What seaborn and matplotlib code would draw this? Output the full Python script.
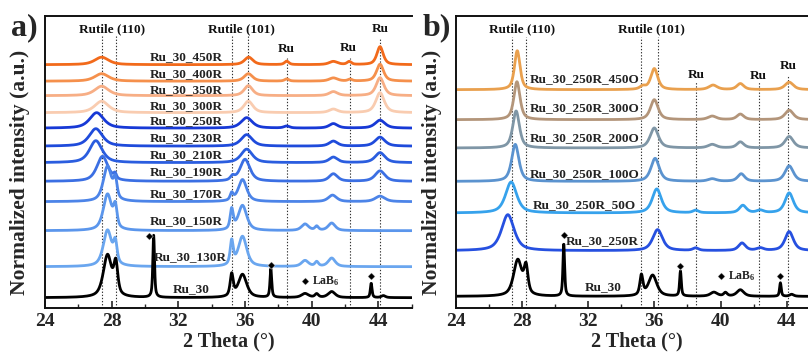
import numpy as np
import pandas as pd
import matplotlib
matplotlib.use("Agg")
import matplotlib.pyplot as plt
from matplotlib.ticker import MultipleLocator
import seaborn as sns

# ---------------- data ----------------
# angle grid of the patterns (2 theta, degrees)
TWO_THETA = np.arange(24.0, 46.001, 0.02)

# panel a) sample names, vertical offsets and colours (top -> bottom)
A_NAMES = ["Ru_30_450R", "Ru_30_400R", "Ru_30_350R", "Ru_30_300R", "Ru_30_250R",
           "Ru_30_230R", "Ru_30_210R", "Ru_30_190R", "Ru_30_170R", "Ru_30_150R",
           "Ru_30_130R", "Ru_30"]
A_OFFSETS = [243, 226.5, 212, 195, 179.5, 161.5, 145, 126.3, 106, 77, 41, 10]
A_COLORS = ["#f26a1b", "#f5904c", "#f7ae85", "#f9ccb0", "#1739d6", "#1f4bdb",
            "#2a5ddf", "#3b6fe3", "#4c84e8", "#5b96ec", "#6aa6ef", "#000000"]
A_LABEL_X = [32.5] * 10 + [32.7, 32.76]
A_LABEL_Y = [250.7, 234, 218, 201.3, 186.3, 169.7, 153, 135.3, 114, 86.3, 50.7, 19]

# peaks: (position, height, fwhm)
P_450R = [(27.4, 7.5, 1.0), (36.22, 7.5, 0.6), (38.5, 3.5, 0.3), (41.3, 3.2, 0.6), (42.25, 3, 0.3), (44.1, 18, 0.45)]
P_400R = [(27.4, 7.5, 1.0), (36.2, 7.5, 0.6), (38.5, 2.2, 0.3), (41.3, 3.2, 0.6), (42.3, 1.8, 0.3), (44.1, 17, 0.5)]
P_350R = [(27.4, 9.5, 1.0), (36.2, 10, 0.6), (41.3, 4, 0.6), (44.1, 18, 0.55)]
P_300R = [(27.4, 11.5, 1.0), (36.2, 11.5, 0.65), (41.3, 3.5, 0.6), (44.1, 20, 0.6)]
P_250R = [(27.1, 15.5, 1.0), (36.1, 10.5, 0.8), (38.5, 2, 0.4), (41.3, 4.5, 0.6), (44.1, 8, 0.7)]
P_230R = [(27.05, 17.5, 0.95), (36.1, 11.5, 0.8), (41.3, 5, 0.6), (44.1, 9, 0.7)]
P_210R = [(27.05, 22, 0.9), (36.1, 13.5, 0.8), (41.3, 5.5, 0.6), (44.1, 10, 0.7)]
P_190R = [(27.45, 25, 0.8), (28.2, 5, 0.2), (35.25, 4, 0.3), (36.0, 22, 0.7), (41.3, 7.5, 0.6), (44.1, 10.5, 0.7)]
P_170R = [(27.75, 35, 0.6), (28.22, 18, 0.25), (35.2, 7, 0.22), (35.85, 22, 0.6), (41.25, 6.5, 0.6), (44.1, 5.5, 0.7)]
P_150R = [(27.75, 36, 0.6), (28.22, 20, 0.25), (35.2, 20, 0.22), (35.85, 25, 0.6), (39.6, 6.5, 0.5), (40.3, 4, 0.25), (41.2, 7.5, 0.5)]
P_130R = [(27.75, 36, 0.6), (28.22, 20, 0.25), (35.2, 24, 0.22), (35.85, 30, 0.6), (39.6, 6, 0.5), (40.3, 4.5, 0.25), (41.2, 8.5, 0.5)]
P_RU30_A = [(27.75, 42, 0.6), (28.25, 30, 0.28), (30.52, 62, 0.12), (35.2, 22, 0.22), (35.85, 23, 0.6),
            (37.55, 29, 0.12), (39.6, 4, 0.5), (40.3, 3.5, 0.25), (41.2, 6, 0.5), (43.57, 14.5, 0.12), (44.3, 2, 0.3)]
A_PEAKS = [P_450R, P_400R, P_350R, P_300R, P_250R, P_230R, P_210R, P_190R,
           P_170R, P_150R, P_130R, P_RU30_A]

# panel b)
B_NAMES = ["Ru_30_250R_450O", "Ru_30_250R_300O", "Ru_30_250R_200O", "Ru_30_250R_100O",
           "Ru_30_250R_50O", "Ru_30_250R", "Ru_30 "]
B_OFFSETS = [218, 188, 159.7, 126.3, 94.7, 57, 11.3]
B_COLORS = ["#e9a04e", "#b3957a", "#7f96a6", "#5b93cf", "#36a2ec", "#2650e0", "#000000"]
B_LABEL_X = [31.8, 31.8, 31.8, 31.8, 31.8, 32.85, 32.9]
B_LABEL_Y = [228.7, 200, 170, 134, 103, 66.3, 20.7]

P_450O = [(27.72, 39, 0.4), (35.3, 3, 0.4), (36.0, 21, 0.5), (39.55, 4.5, 0.6), (41.2, 6, 0.5), (44.15, 7.5, 0.6)]
P_300O = [(27.7, 38, 0.44), (36.0, 20, 0.55), (39.5, 3.5, 0.6), (41.2, 5.5, 0.5), (44.15, 9.5, 0.6)]
P_200O = [(27.65, 37, 0.48), (36.0, 20, 0.6), (39.5, 3.5, 0.6), (41.2, 6, 0.5), (44.15, 11.5, 0.6)]
P_100O = [(27.6, 37, 0.52), (36.05, 23, 0.6), (39.5, 2.5, 0.6), (41.25, 7.5, 0.5), (44.15, 15.5, 0.6)]
P_50O = [(27.35, 31, 0.8), (36.15, 24, 0.65), (38.5, 2.5, 0.4), (41.35, 7.5, 0.5), (42.4, 2.5, 0.5), (44.15, 20, 0.6)]
P_250R_B = [(27.15, 36, 0.9), (36.2, 21, 0.7), (38.5, 2.5, 0.4), (41.3, 7.5, 0.5), (42.4, 2.5, 0.5), (44.15, 19, 0.6)]
P_RU30_B = [(27.75, 36, 0.6), (28.25, 26, 0.28), (30.53, 53, 0.12), (35.22, 20, 0.22), (35.9, 21, 0.6),
            (37.58, 25, 0.12), (39.6, 4, 0.5), (40.3, 3.5, 0.25), (41.2, 6.5, 0.5), (43.62, 13.5, 0.12), (44.3, 2, 0.3)]
B_PEAKS = [P_450O, P_300O, P_200O, P_100O, P_50O, P_250R_B, P_RU30_B]

# reference lines (2 theta) and their top ends (a, b)
REF_LINES = [27.4, 28.23, 35.22, 36.2, 38.52, 42.3, 44.1]
A_REF_TOP = [273, 273, 273, 273, 250, 250, 270]
B_REF_TOP = [271, 271, 271, 271, 226, 226, 233]

# LaB6 marker positions
A_DIAMOND_X = [30.22, 37.55, 39.62, 43.57]
A_DIAMOND_Y = [71.3, 43, 26.3, 31.3]
B_DIAMOND_X = [30.52, 37.58, 40.0, 43.62]
B_DIAMOND_Y = [73, 42, 32, 31.3]

# phase annotations: (text, x, y)
A_PHASES = [("Rutile (110)", 28.0, 278.7), ("Rutile (101)", 35.8, 278.7),
            ("Ru", 38.5, 258.7), ("Ru", 42.2, 259.7), ("Ru", 44.1, 278.7)]
B_PHASES = [("Rutile (110)", 28.0, 278.7), ("Rutile (101)", 35.8, 278.7),
            ("Ru", 38.56, 233), ("Ru", 42.28, 231.3), ("Ru", 44.1, 242)]

TICKS = [24, 28, 32, 36, 40, 44]


def pattern(x, peaks, offset):
    y = np.full_like(x, float(offset))
    for c, h, w in peaks:
        hw = w / 2.0
        u = (x - c) / hw
        lor = 1.0 / (1.0 + u ** 2)
        gau = np.exp(-np.log(2) * u ** 2)
        y = y + h * (0.65 * lor + 0.35 * gau)
    return y


def build(names, offsets, peaks):
    frames = []
    for n, o, p in zip(names, offsets, peaks):
        frames.append(pd.DataFrame({"two_theta": TWO_THETA,
                                    "intensity": pattern(TWO_THETA, p, o),
                                    "sample": n}))
    return pd.concat(frames, ignore_index=True)


# ---------------- style ----------------
sns.set_theme(style="ticks")
plt.rcParams["font.family"] = ["Liberation Serif", "DejaVu Serif"]
plt.rcParams["font.weight"] = "bold"
plt.rcParams["mathtext.fontset"] = "custom"
plt.rcParams["mathtext.rm"] = "Liberation Serif:bold"
plt.rcParams["mathtext.it"] = "Liberation Serif:bold"
plt.rcParams["mathtext.bf"] = "Liberation Serif:bold"

W, H = 808, 354
fig = plt.figure(figsize=(W / 100, H / 100), dpi=100)
fig.patch.set_facecolor("white")

ax_a = fig.add_axes([45 / W, (H - 307.7) / H, 366.7 / W, 292 / H])
ax_b = fig.add_axes([455.7 / W, (H - 307.7) / H, 364.1 / W, 292 / H])


def draw_panel(ax, names, offsets, peaks, colors, lab_x, lab_y, ref_top,
               dx, dy, phases, lab6_x, lab6_y, letter, ylab_x, hide_right):
    df = build(names, offsets, peaks)
    sns.lineplot(data=df, x="two_theta", y="intensity", hue="sample",
                 hue_order=names, palette=dict(zip(names, colors)),
                 estimator=None, sort=False, legend=False, lw=2.0, ax=ax)
    for xr, top in zip(REF_LINES, ref_top):
        ax.plot([xr, xr], [0, top], ls=(0, (1.2, 1.6)), color="#333333", lw=0.8, zorder=1)
    for n, x, y in zip(names, lab_x, lab_y):
        ax.text(x, y, n.strip(), ha="center", va="center", fontsize=9.5,
                fontweight="bold", color="#222222", zorder=5)
    for t, x, y in phases:
        ax.text(x, y, t, ha="center", va="center", fontsize=9.5,
                fontweight="bold", color="#111111")
    sns.scatterplot(x=dx, y=dy, marker="D", s=14, color="black", ax=ax, zorder=6)
    ax.text(lab6_x, lab6_y, "LaB$_6$", ha="left", va="center", fontsize=8.5,
            fontweight="bold", color="#222222")
    ax.set_xlim(24, 46)
    ax.set_ylim(0, 292)
    ax.set_xticks(TICKS)
    ax.xaxis.set_minor_locator(MultipleLocator(2))
    ax.set_yticks([])
    ax.tick_params(axis="x", which="major", direction="in", length=5, width=1.2,
                   labelsize=14, pad=4)
    ax.tick_params(axis="x", which="minor", direction="in", length=3, width=1.0)
    for lbl in ax.get_xticklabels():
        lbl.set_fontweight("bold")
    for s in ax.spines.values():
        s.set_linewidth(1.4)
        s.set_color("#111111")
    if hide_right:
        ax.spines["right"].set_visible(False)
    ax.set_xlabel("2 Theta (°)", fontsize=14.5, fontweight="bold", labelpad=1)
    ax.set_ylabel("")
    fig.text(ylab_x / W, (H - 172) / H, "Normalized intensity (a.u.)", rotation=90,
             ha="center", va="center", fontsize=15.5, fontweight="bold")
    fig.text(letter[1] / W, (H - 28) / H, letter[0], ha="left", va="center",
             fontsize=23, fontweight="bold")


draw_panel(ax_a, A_NAMES, A_OFFSETS, A_PEAKS, A_COLORS, A_LABEL_X, A_LABEL_Y,
           A_REF_TOP, A_DIAMOND_X, A_DIAMOND_Y, A_PHASES, 40.0, 26.3,
           ("a)", 11), 20, True)
draw_panel(ax_b, B_NAMES, B_OFFSETS, B_PEAKS, B_COLORS, B_LABEL_X, B_LABEL_Y,
           B_REF_TOP, B_DIAMOND_X, B_DIAMOND_Y, B_PHASES, 40.45, 32,
           ("b)", 423), 432, False)

ax_b.xaxis.label.set_x((637 - 455.7) / 364.1)

fig.savefig("out.png", dpi=100, facecolor="white")
